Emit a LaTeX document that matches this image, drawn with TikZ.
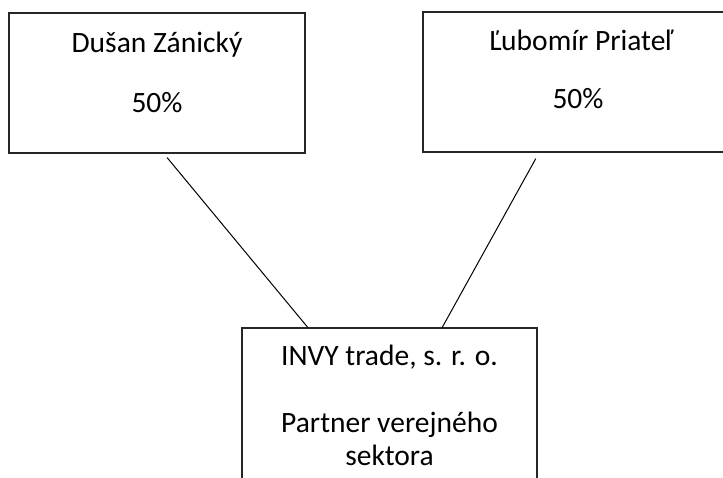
\documentclass[tikz,border=0pt]{standalone}
\usepackage{fontspec}
\setmainfont{Carlito}
\usetikzlibrary{calc}

\tikzset{
  ownerbox/.style={draw=black!85, line width=1.2pt, inner sep=0pt},
  boxtext/.style={anchor=base, inner sep=0pt, font=\fontsize{29.5}{34}\selectfont},
  link/.style={black, line width=1pt}
}

\begin{document}
\begin{tikzpicture}[x=1pt, y=-1pt]
        \useasboundingbox (0,0) rectangle (723,477);
        \clip (0,0) rectangle (723,477);

        % Owners
        \node[ownerbox, minimum width=296pt, minimum height=140pt] (zanicky) at (157,83) {};
        \node[boxtext] (zanickyname) at (157,52) {Dušan Zánický};
        \node[boxtext] (zanickyshare) at (157,112) {50\%};

        \node[ownerbox, minimum width=312pt, minimum height=140pt] (priatel) at (579,82) {};
        \node[boxtext] (priatelname) at (581,50) {Ľubomír Priateľ};
        \node[boxtext] (priatelshare) at (578,108) {50\%};

        % Company
        \node[ownerbox, minimum width=295pt, minimum height=200pt] (invy) at (389.5,428) {};
        \node[boxtext] (invyname) at (389.5,365) {INVY trade, s. r. o.};
        \node[boxtext] (invyrole) at (389.5,432) {Partner verejného};
        \node[boxtext] (invysector) at (389.5,465) {sektora};

        % Ownership links
        \draw[link] ($(zanicky.south west)!0.534!(zanicky.south east)+(0,4)$) -- ($(invy.north west)!0.224!(invy.north east)$);
        \draw[link] ($(priatel.south west)!0.362!(priatel.south east)+(0,6)$) -- ($(invy.north west)!0.678!(invy.north east)$);
    \end{tikzpicture}
\end{document}
